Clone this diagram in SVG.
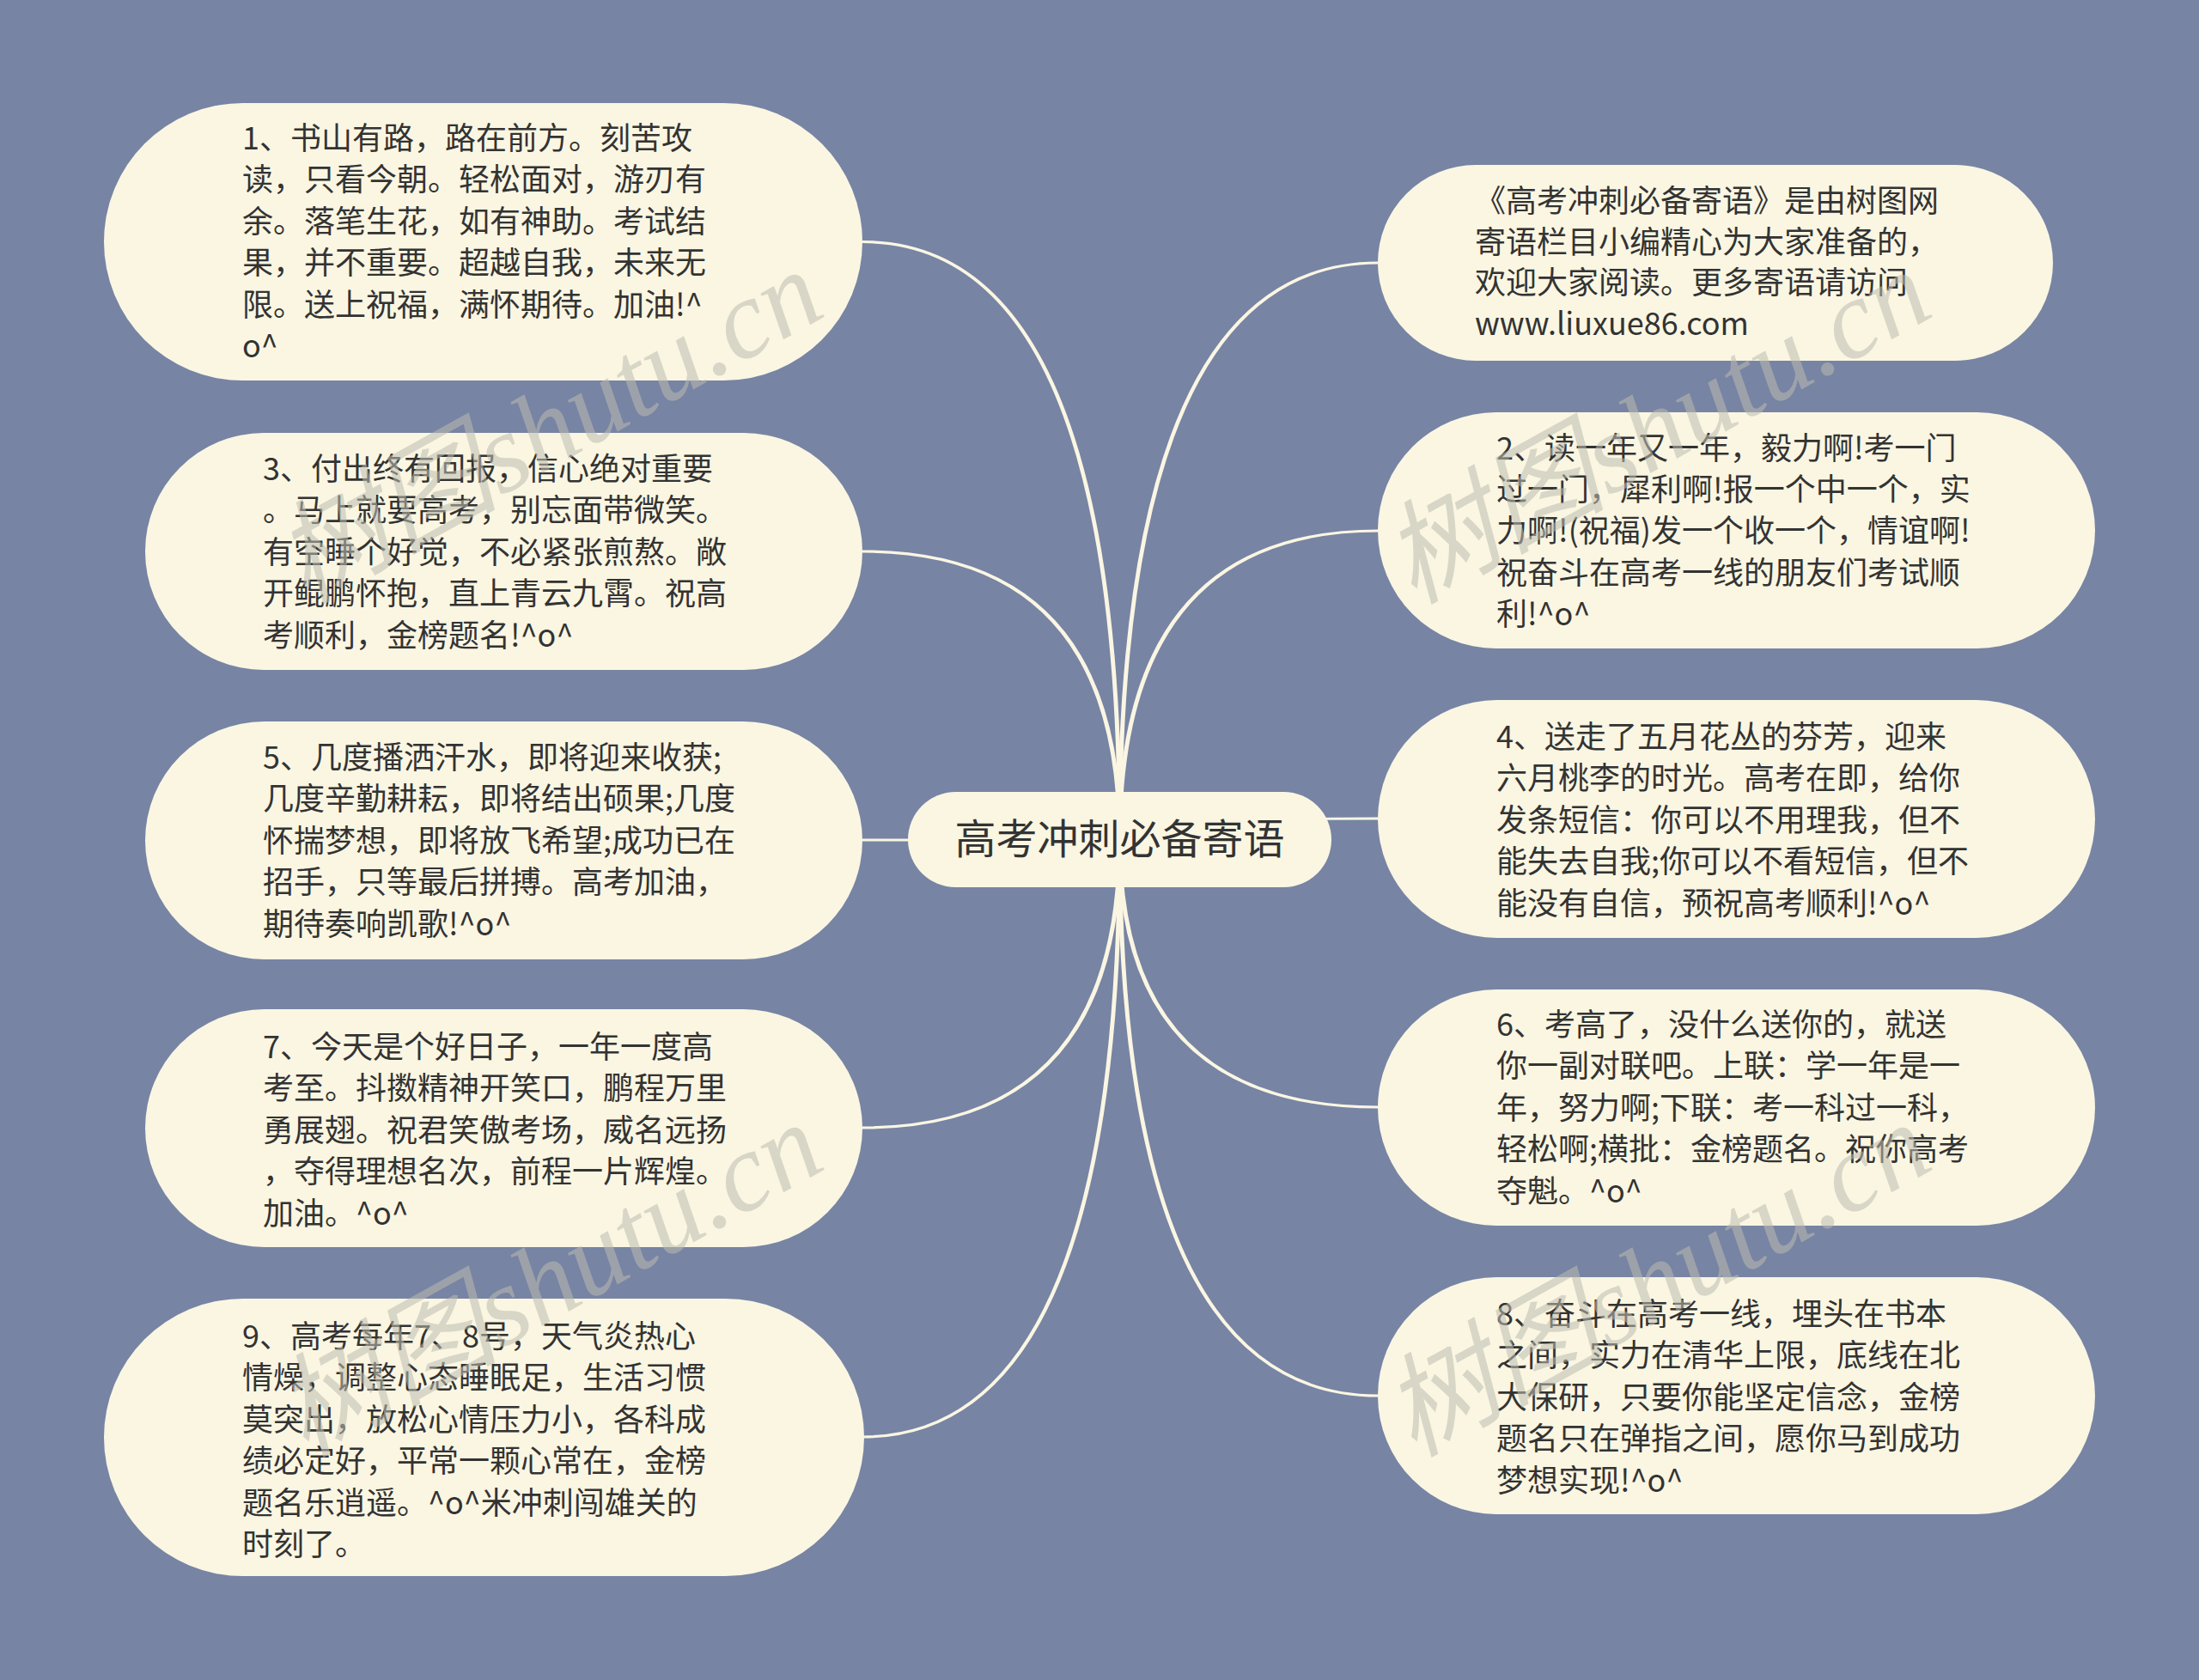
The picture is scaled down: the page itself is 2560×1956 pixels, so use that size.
<svg xmlns="http://www.w3.org/2000/svg" width="2560" height="1956" viewBox="0 0 2560 1956">
<style>
.bg{fill:#7784a4}
.node{fill:#faf6e2}
.conn{fill:#faf6e2}
.t{font-family:"Noto Sans CJK SC","Noto Sans",sans-serif;font-size:36px;fill:#333333}
.root{font-family:"Noto Sans CJK SC","Noto Sans",sans-serif;font-size:48px;fill:#333333;text-anchor:middle}
.wm{font-family:"Liberation Serif","Noto Sans CJK SC",serif;font-style:italic;font-size:130px;fill:#bdbcb0;opacity:0.55;text-anchor:middle}
</style>
<rect class="bg" x="0" y="0" width="2560" height="1956"/>
<g id="connectors">
<path class="conn" d="M1301,977.5 Q1301,304.4 1604,304.4 L1604,307.6 Q1306,307.6 1306,977.5 Z"/>
<path class="conn" d="M1301,977.5 Q1301,616.4 1604,616.4 L1604,619.6 Q1306,619.6 1306,977.5 Z"/>
<path class="conn" d="M1301,977.5 Q1301,951.4 1604,951.4 L1604,954.6 Q1306,954.6 1306,977.5 Z"/>
<path class="conn" d="M1301,977.5 Q1301,1290.6 1604,1290.6 L1604,1287.4 Q1306,1287.4 1306,977.5 Z"/>
<path class="conn" d="M1301,977.5 Q1301,1626.6 1604,1626.6 L1604,1623.4 Q1306,1623.4 1306,977.5 Z"/>
<path class="conn" d="M1306,977.5 Q1306,279.9 1004,279.9 L1004,283.1 Q1301,283.1 1301,977.5 Z"/>
<path class="conn" d="M1306,977.5 Q1306,640.4 1004,640.4 L1004,643.6 Q1301,643.6 1301,977.5 Z"/>
<path class="conn" d="M1306,977.5 Q1306,976.4 1004,976.4 L1004,979.6 Q1301,979.6 1301,977.5 Z"/>
<path class="conn" d="M1306,977.5 Q1306,1314.6 1004,1314.6 L1004,1311.4 Q1301,1311.4 1301,977.5 Z"/>
<path class="conn" d="M1306,977.5 Q1306,1674.6 1004,1674.6 L1004,1671.4 Q1301,1671.4 1301,977.5 Z"/>
</g>
<g id="root">
<rect class="node" x="1057" y="922" width="493" height="111" rx="55.5"/>
<text class="root" x="1303.5" y="994">高考冲刺必备寄语</text>
</g>
<g id="node1">
<rect class="node" x="121" y="120" width="883" height="323" rx="161.5"/>
<text class="t" x="282" y="174"><tspan x="282">1、书山有路，路在前方。刻苦攻</tspan><tspan x="282" dy="48.4">读，只看今朝。轻松面对，游刃有</tspan><tspan x="282" dy="48.4">余。落笔生花，如有神助。考试结</tspan><tspan x="282" dy="48.4">果，并不重要。超越自我，未来无</tspan><tspan x="282" dy="48.4">限。送上祝福，满怀期待。加油!^</tspan><tspan x="282" dy="48.4">o^</tspan></text>
</g>
<g id="node3">
<rect class="node" x="169" y="504" width="835" height="276" rx="138"/>
<text class="t" x="306" y="559"><tspan x="306">3、付出终有回报，信心绝对重要</tspan><tspan x="306" dy="48.4">。马上就要高考，别忘面带微笑。</tspan><tspan x="306" dy="48.4">有空睡个好觉，不必紧张煎熬。敞</tspan><tspan x="306" dy="48.4">开鲲鹏怀抱，直上青云九霄。祝高</tspan><tspan x="306" dy="48.4">考顺利，金榜题名!^o^</tspan></text>
</g>
<g id="node5">
<rect class="node" x="169" y="840" width="835" height="277" rx="138.5"/>
<text class="t" x="306" y="895"><tspan x="306">5、几度播洒汗水，即将迎来收获;</tspan><tspan x="306" dy="48.4">几度辛勤耕耘，即将结出硕果;几度</tspan><tspan x="306" dy="48.4">怀揣梦想，即将放飞希望;成功已在</tspan><tspan x="306" dy="48.4">招手，只等最后拼搏。高考加油，</tspan><tspan x="306" dy="48.4">期待奏响凯歌!^o^</tspan></text>
</g>
<g id="node7">
<rect class="node" x="169" y="1175" width="835" height="277" rx="138.5"/>
<text class="t" x="306" y="1232"><tspan x="306">7、今天是个好日子，一年一度高</tspan><tspan x="306" dy="48.4">考至。抖擞精神开笑口，鹏程万里</tspan><tspan x="306" dy="48.4">勇展翅。祝君笑傲考场，威名远扬</tspan><tspan x="306" dy="48.4">，夺得理想名次，前程一片辉煌。</tspan><tspan x="306" dy="48.4">加油。^o^</tspan></text>
</g>
<g id="node9">
<rect class="node" x="121" y="1512" width="885" height="323" rx="161.5"/>
<text class="t" x="282" y="1569"><tspan x="282">9、高考每年7、8号，天气炎热心</tspan><tspan x="282" dy="48.4">情燥，调整心态睡眠足，生活习惯</tspan><tspan x="282" dy="48.4">莫突出，放松心情压力小，各科成</tspan><tspan x="282" dy="48.4">绩必定好，平常一颗心常在，金榜</tspan><tspan x="282" dy="48.4">题名乐逍遥。^o^米冲刺闯雄关的</tspan><tspan x="282" dy="48.4">时刻了。</tspan></text>
</g>
<g id="intro">
<rect class="node" x="1604" y="192" width="786" height="228" rx="114"/>
<text class="t" x="1717" y="247"><tspan x="1717">《高考冲刺必备寄语》是由树图网</tspan><tspan x="1717" dy="47.5">寄语栏目小编精心为大家准备的，</tspan><tspan x="1717" dy="47.5">欢迎大家阅读。更多寄语请访问</tspan><tspan x="1717" dy="47.5">www.liuxue86.com</tspan></text>
</g>
<g id="node2">
<rect class="node" x="1604" y="480" width="835" height="275" rx="137.5"/>
<text class="t" x="1742" y="534.5"><tspan x="1742">2、读一年又一年，毅力啊!考一门</tspan><tspan x="1742" dy="48.4">过一门，犀利啊!报一个中一个，实</tspan><tspan x="1742" dy="48.4">力啊!(祝福)发一个收一个，情谊啊!</tspan><tspan x="1742" dy="48.4">祝奋斗在高考一线的朋友们考试顺</tspan><tspan x="1742" dy="48.4">利!^o^</tspan></text>
</g>
<g id="node4">
<rect class="node" x="1604" y="815" width="835" height="277" rx="138.5"/>
<text class="t" x="1742" y="871"><tspan x="1742">4、送走了五月花丛的芬芳，迎来</tspan><tspan x="1742" dy="48.4">六月桃李的时光。高考在即，给你</tspan><tspan x="1742" dy="48.4">发条短信：你可以不用理我，但不</tspan><tspan x="1742" dy="48.4">能失去自我;你可以不看短信，但不</tspan><tspan x="1742" dy="48.4">能没有自信，预祝高考顺利!^o^</tspan></text>
</g>
<g id="node6">
<rect class="node" x="1604" y="1152" width="835" height="275" rx="137.5"/>
<text class="t" x="1742" y="1206"><tspan x="1742">6、考高了，没什么送你的，就送</tspan><tspan x="1742" dy="48.4">你一副对联吧。上联：学一年是一</tspan><tspan x="1742" dy="48.4">年，努力啊;下联：考一科过一科，</tspan><tspan x="1742" dy="48.4">轻松啊;横批：金榜题名。祝你高考</tspan><tspan x="1742" dy="48.4">夺魁。^o^</tspan></text>
</g>
<g id="node8">
<rect class="node" x="1604" y="1487" width="835" height="276" rx="138"/>
<text class="t" x="1742" y="1543"><tspan x="1742">8、奋斗在高考一线，埋头在书本</tspan><tspan x="1742" dy="48.4">之间，实力在清华上限，底线在北</tspan><tspan x="1742" dy="48.4">大保研，只要你能坚定信念，金榜</tspan><tspan x="1742" dy="48.4">题名只在弹指之间，愿你马到成功</tspan><tspan x="1742" dy="48.4">梦想实现!^o^</tspan></text>
</g>
<g id="watermarks">
<text class="wm" transform="translate(660,535) rotate(-29)">树图shutu.cn</text>
<text class="wm" transform="translate(1950,535) rotate(-29)">树图shutu.cn</text>
<text class="wm" transform="translate(660,1528) rotate(-29)">树图shutu.cn</text>
<text class="wm" transform="translate(1950,1528) rotate(-29)">树图shutu.cn</text>
</g>
</svg>
